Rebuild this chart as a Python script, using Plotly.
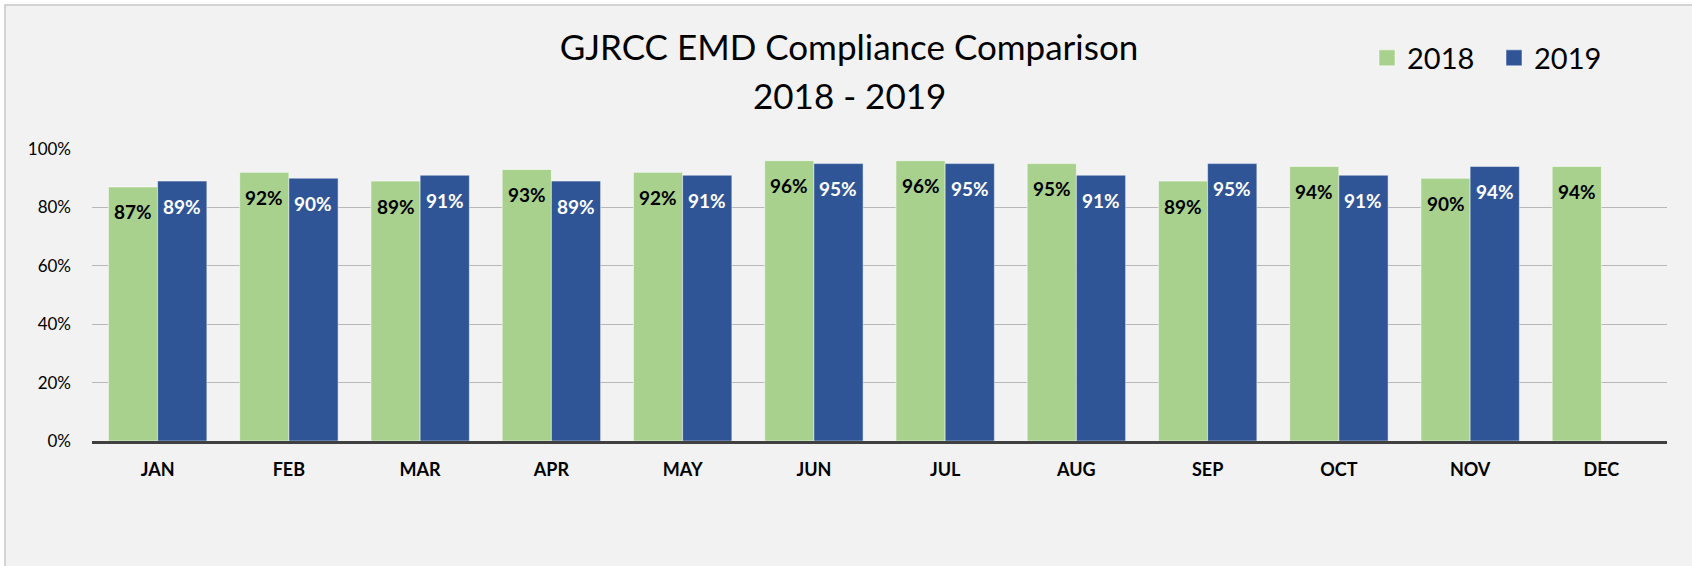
import plotly.graph_objects as go

months = ["JAN", "FEB", "MAR", "APR", "MAY", "JUN", "JUL", "AUG", "SEP", "OCT", "NOV", "DEC"]
vals_2018 = [0.87, 0.92, 0.89, 0.93, 0.92, 0.96, 0.96, 0.95, 0.89, 0.94, 0.90, 0.94]
vals_2019 = [0.89, 0.90, 0.91, 0.89, 0.91, 0.95, 0.95, 0.91, 0.95, 0.91, 0.94, None]
y_ticks = [0, 0.2, 0.4, 0.6, 0.8, 1.0]
y_tick_labels = ["0%", "20%", "40%", "60%", "80%", "100%"]
series_names = ["2018", "2019"]
title_line1 = "GJRCC EMD Compliance Comparison"
title_line2 = "2018 - 2019"

GREEN = "#A9D18E"
BLUE = "#2F5597"
FONT = "Lato"

W, H = 1692, 566
L, R, T, B = 92, 25, 149, 125
PW, PH = W - L - R, H - T - B
TITLE_X = 849

fig = go.Figure()
fig.add_trace(go.Bar(x=months, y=vals_2018, name=series_names[0], marker_color=GREEN,
                     marker_line=dict(color="rgba(255,255,255,0.55)", width=1), showlegend=False))
fig.add_trace(go.Bar(x=months, y=vals_2019, name=series_names[1], marker_color=BLUE,
                     marker_line=dict(color="rgba(255,255,255,0.45)", width=1), showlegend=False))

# legend proxies
for name, col in zip(series_names, [GREEN, BLUE]):
    fig.add_trace(go.Scatter(x=[None], y=[None], mode="markers", name=name,
                             marker=dict(symbol="square", size=16, color=col,
                                         line=dict(color="rgba(255,255,255,0.5)", width=1))))

annotations = []
for vals, xs, col in [(vals_2018, -24.5, "#000000"), (vals_2019, 24.5, "#FFFFFF")]:
    for m, v in zip(months, vals):
        if v is None:
            continue
        annotations.append(dict(x=m, y=v, xref="x", yref="y", text=f"{round(v*100)}%",
                                showarrow=False, xshift=xs, yshift=-25, yanchor="middle",
                                font=dict(family=FONT, size=19, color=col, weight="bold")))

annotations.append(dict(x=(TITLE_X - L) / PW, y=(H - B - 95) / PH, xref="paper", yref="paper",
                        text=title_line2, showarrow=False, xanchor="center", yanchor="middle",
                        font=dict(family=FONT, size=35, color="#000000")))

fig.update_layout(
    width=W, height=H,
    margin=dict(l=L, r=R, t=T, b=B, autoexpand=False),
    paper_bgcolor="#FFFFFF",
    plot_bgcolor="rgba(0,0,0,0)",
    barmode="group", bargap=0.25, bargroupgap=0.0,
    title=dict(text=title_line1, x=TITLE_X / W, xanchor="center", xref="container",
               y=1 - 47.5 / H, yref="container", yanchor="middle",
               font=dict(family=FONT, size=35, color="#000000")),
    legend=dict(orientation="h", xref="container", yref="container",
                x=1367 / W, xanchor="left", y=1 - 58 / H, yanchor="middle",
                entrywidth=82, entrywidthmode="pixels",
                font=dict(family=FONT, size=29, color="#000000"),
                bgcolor="rgba(0,0,0,0)", itemclick=False),
    xaxis=dict(showgrid=False, showline=True, linecolor="#404040", linewidth=3,
               tickfont=dict(family=FONT, size=18, color="#000000", weight="bold"),
               ticks="", ticklabelstandoff=10, fixedrange=True, automargin=False),
    yaxis=dict(range=[0, 1], tickvals=y_ticks, ticktext=y_tick_labels,
               showgrid=True, gridcolor="#B8B8B8", gridwidth=1, zeroline=False,
               tickfont=dict(family=FONT, size=17, color="#000000"),
               ticks="", ticklabelstandoff=20, fixedrange=True, automargin=False),
    annotations=annotations,
    shapes=[dict(type="rect", xref="paper", yref="paper", layer="below",
                 x0=(5 - L) / PW, x1=(W + 10 - L) / PW,
                 y0=(H - B - (H + 10)) / PH, y1=(H - B - 5) / PH,
                 fillcolor="#F2F2F2", line=dict(color="#C8C8C8", width=1.5))],
    font=dict(family=FONT),
)

fig.write_html("out.html", config={"displayModeBar": False},
               post_script="document.body.style.margin='0';")
